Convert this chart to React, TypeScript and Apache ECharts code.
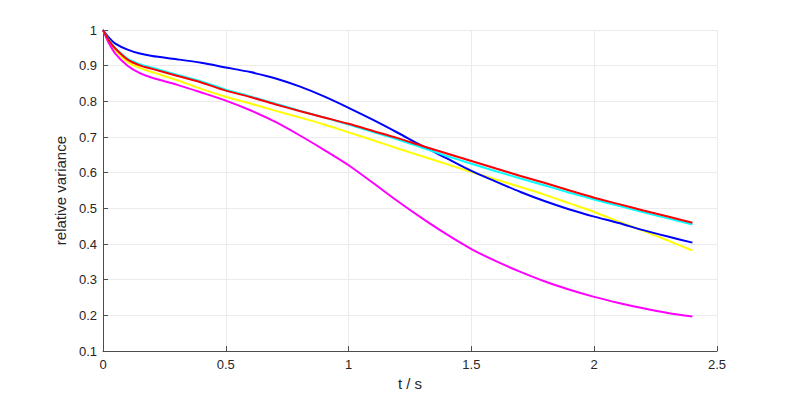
import React, { useEffect, useRef } from "react";
import * as echarts from "echarts";

const times = [0, 0.025, 0.05, 0.1, 0.15, 0.2, 0.3, 0.4, 0.5, 0.6, 0.7, 0.8, 0.9, 1.0, 1.1, 1.2, 1.3, 1.4, 1.5, 1.6, 1.7, 1.8, 1.9, 2.0, 2.1, 2.2, 2.3, 2.4];
const blueVals = [1.0, 0.978, 0.962, 0.945, 0.934, 0.927, 0.918, 0.908, 0.895, 0.882, 0.865, 0.842, 0.814, 0.782, 0.748, 0.712, 0.675, 0.64, 0.605, 0.575, 0.546, 0.52, 0.497, 0.477, 0.459, 0.439, 0.421, 0.404];
const redVals = [1.0, 0.97, 0.948, 0.917, 0.901, 0.891, 0.872, 0.853, 0.83, 0.812, 0.792, 0.773, 0.755, 0.737, 0.717, 0.697, 0.675, 0.654, 0.633, 0.612, 0.591, 0.571, 0.55, 0.53, 0.512, 0.494, 0.477, 0.46];
const cyanVals = [1.0, 0.971, 0.95, 0.92, 0.904, 0.894, 0.875, 0.856, 0.833, 0.814, 0.794, 0.774, 0.755, 0.735, 0.714, 0.693, 0.67, 0.647, 0.625, 0.604, 0.584, 0.564, 0.544, 0.525, 0.507, 0.489, 0.472, 0.455];
const yellowVals = [1.0, 0.968, 0.943, 0.91, 0.894, 0.882, 0.86, 0.835, 0.813, 0.794, 0.774, 0.755, 0.735, 0.713, 0.691, 0.668, 0.646, 0.624, 0.602, 0.581, 0.56, 0.538, 0.514, 0.49, 0.463, 0.437, 0.41, 0.382];
const magentaVals = [1.0, 0.962, 0.934, 0.9, 0.879, 0.866, 0.847, 0.825, 0.802, 0.775, 0.743, 0.705, 0.664, 0.621, 0.571, 0.52, 0.472, 0.427, 0.386, 0.352, 0.322, 0.295, 0.272, 0.252, 0.235, 0.22, 0.207, 0.197];

const seriesDefs = [
  { name: "yellow", color: "#ffff00", values: yellowVals },
  { name: "magenta", color: "#ff00ff", values: magentaVals },
  { name: "blue", color: "#0000ff", values: blueVals },
  { name: "cyan", color: "#00ffff", values: cyanVals },
  { name: "red", color: "#ff0000", values: redVals },
];

const FONT = "'Liberation Sans', Arial, Helvetica, sans-serif";

export default function App() {
  const ref = useRef<HTMLDivElement>(null);
  useEffect(() => {
    if (!ref.current) return;
    const chart = echarts.init(ref.current, undefined, { renderer: "svg" });
    chart.setOption({
      animation: false,
      backgroundColor: "#ffffff",
      grid: { left: 103, right: 76, top: 30, bottom: 44, containLabel: false },
      xAxis: {
        type: "value",
        min: 0,
        max: 2.5,
        interval: 0.5,
        name: "t / s",
        nameLocation: "middle",
        nameGap: 24,
        nameTextStyle: { color: "#262626", fontFamily: FONT, fontSize: 15 },
        axisLine: { show: true, onZero: false, lineStyle: { color: "#4d4d4d", width: 1 } },
        axisTick: { show: true, inside: true, length: 5, lineStyle: { color: "#4d4d4d" } },
        axisLabel: { color: "#262626", fontFamily: FONT, fontSize: 13, margin: 7 },
        splitLine: { show: true, lineStyle: { color: "#ebebeb", width: 1 } },
      },
      yAxis: {
        type: "value",
        min: 0.1,
        max: 1,
        interval: 0.1,
        name: "relative variance",
        nameLocation: "middle",
        nameGap: 25,
        nameTextStyle: { color: "#262626", fontFamily: FONT, fontSize: 15 },
        axisLine: { show: true, onZero: false, lineStyle: { color: "#4d4d4d", width: 1 } },
        axisTick: { show: true, inside: true, length: 5, lineStyle: { color: "#4d4d4d" } },
        axisLabel: {
          color: "#262626",
          fontFamily: FONT,
          fontSize: 13,
          margin: 6,
          formatter: (v: number) => String(+v.toFixed(1)),
        },
        splitLine: { show: true, lineStyle: { color: "#ebebeb", width: 1 } },
      },
      series: seriesDefs.map((s) => ({
        name: s.name,
        type: "line",
        data: times.map((t, i) => [t, s.values[i]]),
        smooth: 0.3,
        showSymbol: false,
        lineStyle: { color: s.color, width: 2 },
        itemStyle: { color: s.color },
      })),
    });
    return () => chart.dispose();
  }, []);
  return (
    <div
      ref={ref}
      style={{ position: "fixed", left: 0, top: 0, width: 793, height: 396, background: "#fff" }}
    />
  );
}
